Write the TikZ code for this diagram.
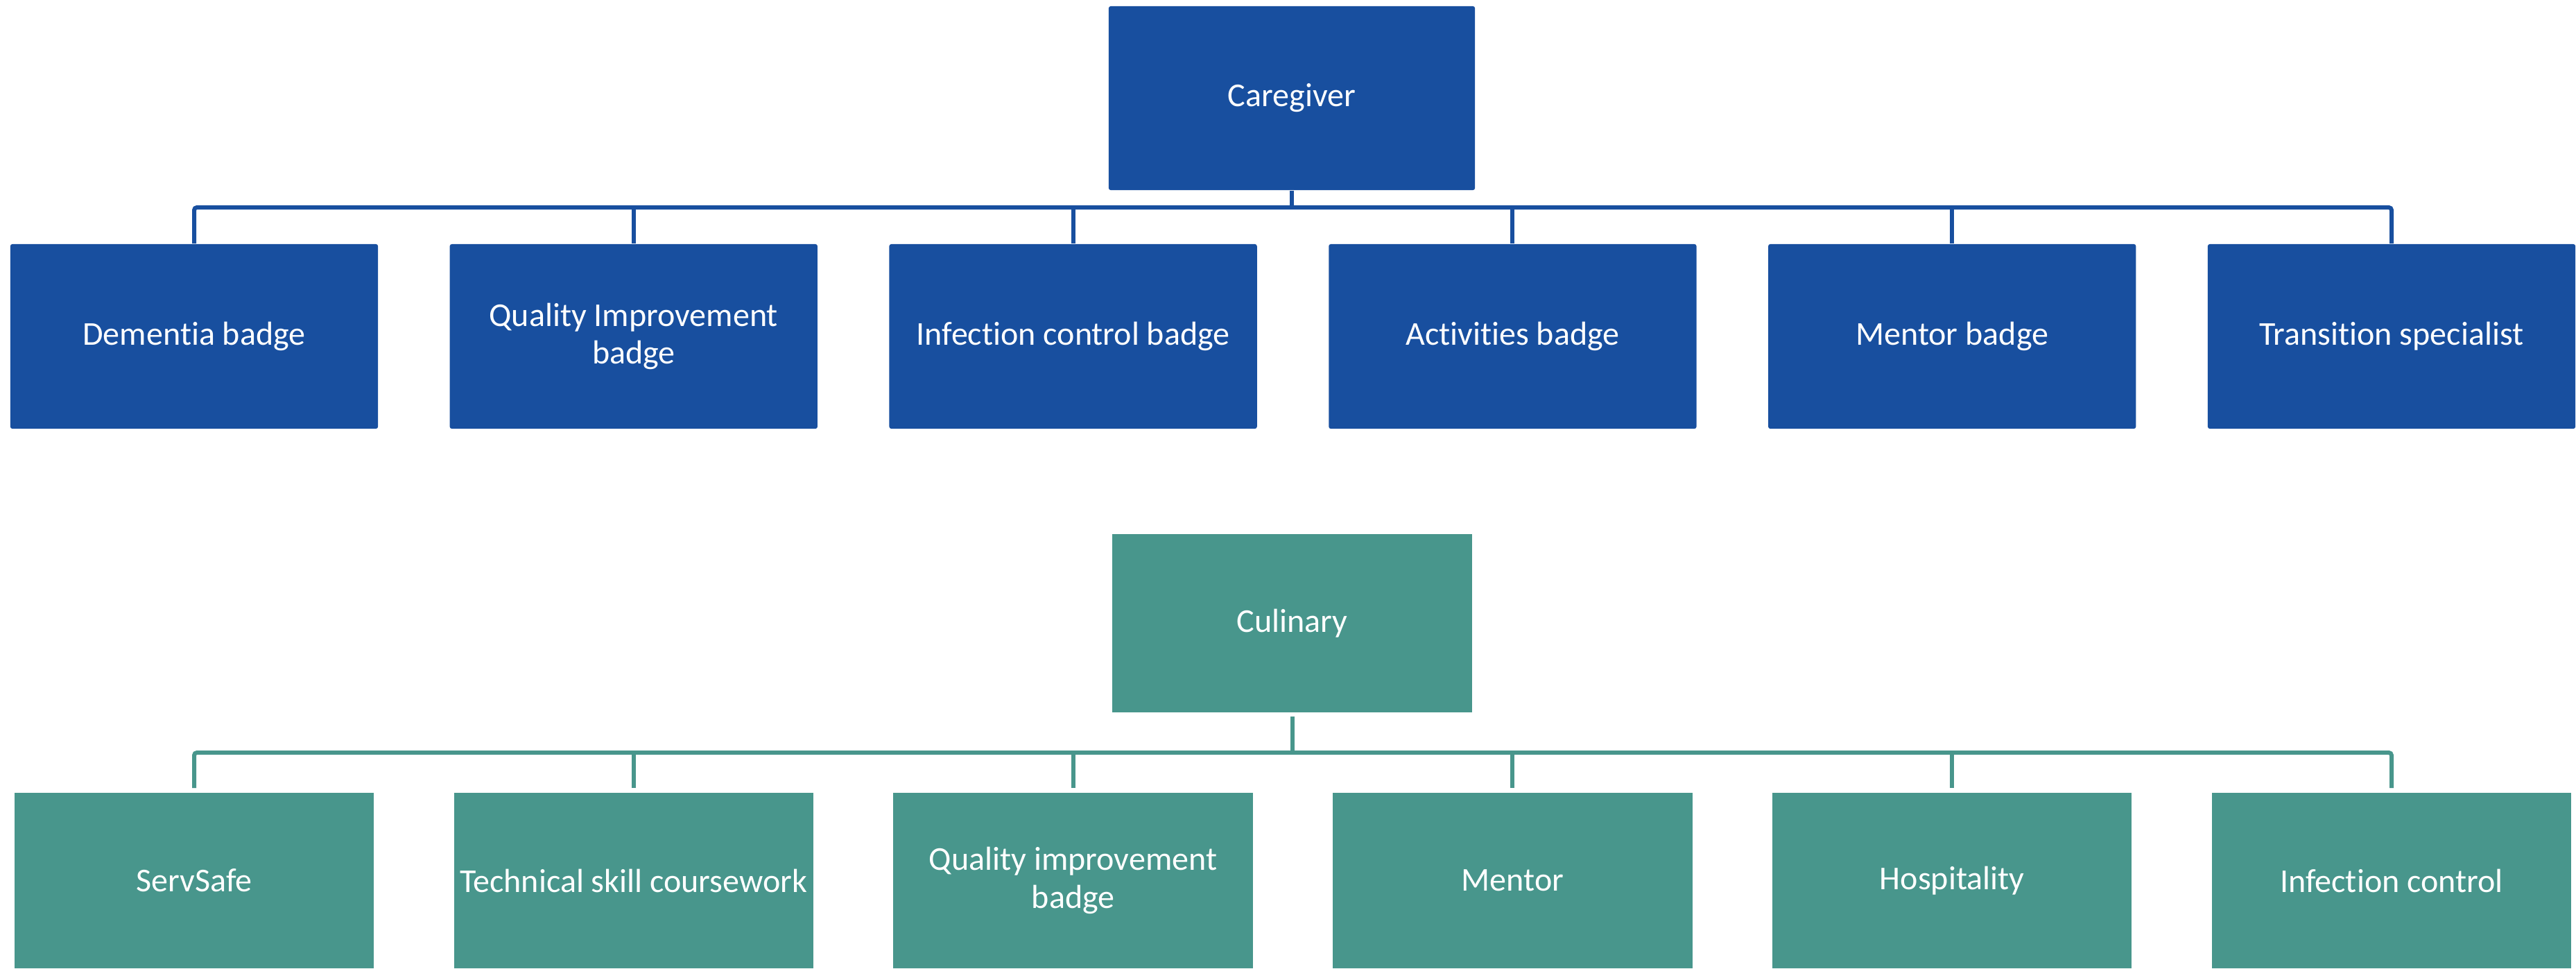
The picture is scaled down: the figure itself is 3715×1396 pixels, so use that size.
\documentclass[tikz,border=0pt]{standalone}
\usepackage{fontspec}
\setmainfont{Carlito}[RawFeature={-liga;-clig}]
\definecolor{careblue}{RGB}{24,79,159}
\definecolor{culteal}{RGB}{72,150,140}
\begin{document}
\begin{tikzpicture}[x=0.01cm,y=-0.01cm,
  box/.style={rectangle, inner sep=0pt, text=white, align=center,
    font=\fontsize{13.66}{15.6}\selectfont},
  bluehead/.style={box, fill=careblue, rounded corners=0.03cm,
    minimum width=5.28cm, minimum height=2.65cm},
  bluebox/.style={box, fill=careblue, rounded corners=0.03cm,
    minimum width=5.30cm, minimum height=2.66cm},
  tealhead/.style={box, fill=culteal, minimum width=5.19cm, minimum height=2.57cm},
  tealbox/.style={box, fill=culteal, minimum width=5.18cm, minimum height=2.53cm},
  blueline/.style={draw=careblue, line width=0.06cm},
  tealline/.style={draw=culteal, line width=0.06cm}
]
\useasboundingbox (0,0) rectangle (3715,1396);

% ---- Caregiver tree ----
\node[bluehead] (care) at (1863,141.5) {Caregiver};
\node[bluebox] (a1) at (280,485)    {Dementia badge};
\node[bluebox] (a2) at (913.8,485)  {Quality Improvement\\badge};
\node[bluebox] (a3) at (1547.6,485) {Infection control badge};
\node[bluebox] (a4) at (2181.4,485) {Activities badge};
\node[bluebox] (a5) at (2815.2,485) {Mentor badge};
\node[bluebox] (a6) at (3449,485)   {Transition specialist};

\coordinate (hubA) at (1863,299);
\draw[blueline] (care.south) -- (hubA);
\draw[blueline, rounded corners=0.04cm] (a1.north) |- (a6.north |- hubA) -- (a6.north);
\foreach \k in {2,3,4,5}
  \draw[blueline] (a\k.north |- hubA) -- (a\k.north);

% ---- Culinary tree ----
\node[tealhead] (cul) at (1863.5,898.5) {Culinary};
\node[tealbox] (b1) at (280,1269.5)    {ServSafe};
\node[tealbox] (b2) at (913.8,1269.5)  {Technical skill coursework};
\node[tealbox] (b3) at (1547.6,1269.5) {Quality improvement\\badge};
\node[tealbox] (b4) at (2181.4,1269.5) {Mentor};
\node[tealbox] (b5) at (2815.2,1269.5) {Hospitality};
\node[tealbox] (b6) at (3449,1269.5)   {Infection control};

\coordinate (hubB) at (1863.5,1085);
\draw[tealline, shorten <=0.05cm] (cul.south) -- (hubB);
\draw[tealline, rounded corners=0.04cm, shorten <=0.06cm, shorten >=0.06cm]
  (b1.north) |- (b6.north |- hubB) -- (b6.north);
\foreach \k in {2,3,4,5}
  \draw[tealline, shorten >=0.06cm] (b\k.north |- hubB) -- (b\k.north);
\end{tikzpicture}
\end{document}
